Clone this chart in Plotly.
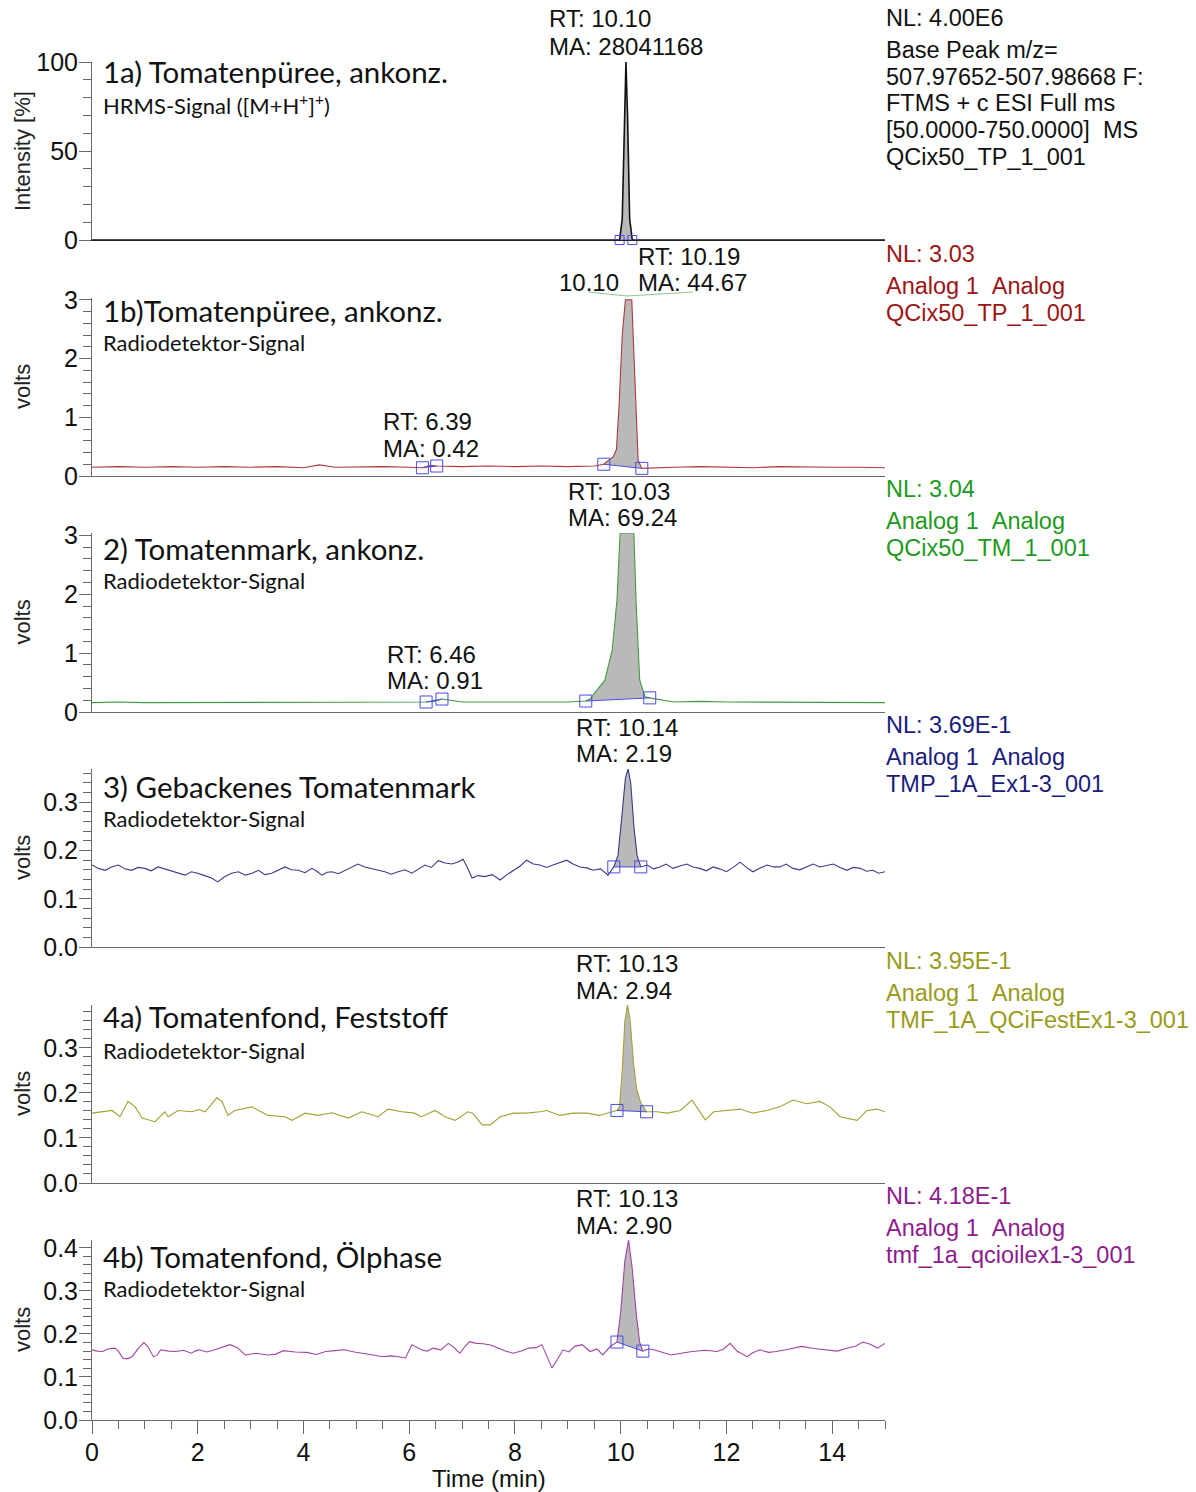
import numpy as np
import plotly.graph_objects as go

# ---------------- data ----------------
# 1a) HRMS signal, intensity [%]
t1a = [0, 5, 9.98, 10.03, 10.07, 10.10, 10.13, 10.17, 10.22, 12, 15]
v1a = [0, 0, 0, 12, 70, 100, 70, 12, 0, 0, 0]

# 1b) Radiodetector, Tomatenpüree (volts)
t1b = [0, 0.5, 1.0, 1.5, 2.0, 2.5, 3.0, 3.5, 4.0, 4.3, 4.6, 5.0, 5.5, 6.0, 6.25, 6.4, 6.52,
       7.0, 7.5, 8.0, 8.5, 9.0, 9.5, 9.68, 9.86, 9.92, 9.97, 10.03, 10.09, 10.21, 10.27, 10.33,
       10.4, 10.6, 11.0, 11.5, 12.0, 12.5, 13.0, 13.5, 14.0, 14.5, 15.0]
v1b = [0.15, 0.16, 0.15, 0.16, 0.15, 0.16, 0.15, 0.16, 0.14, 0.19, 0.15, 0.16, 0.16, 0.15, 0.14, 0.18, 0.17,
       0.16, 0.17, 0.16, 0.17, 0.16, 0.17, 0.20, 0.33, 0.45, 1.20, 2.40, 3.00, 3.00, 1.47, 0.27,
       0.13, 0.14, 0.15, 0.16, 0.15, 0.14, 0.16, 0.15, 0.15, 0.15, 0.14]

# 2) Tomatenmark (volts)
t2 = [0, 0.5, 1.0, 1.5, 2.0, 2.5, 3.0, 3.5, 4.0, 4.5, 5.0, 5.5, 6.0, 6.32, 6.47, 6.62, 7.0, 7.5,
      8.0, 8.5, 9.0, 9.34, 9.42, 9.55, 9.70, 9.84, 9.93, 9.99, 10.25, 10.29, 10.36, 10.46, 10.55,
      11.0, 11.5, 12.0, 12.5, 13.0, 13.5, 14.0, 14.5, 15.0]
v2 = [0.16, 0.17, 0.16, 0.16, 0.17, 0.16, 0.16, 0.17, 0.16, 0.16, 0.17, 0.16, 0.16, 0.17, 0.18, 0.22, 0.17, 0.17,
      0.17, 0.18, 0.17, 0.186, 0.22, 0.37, 0.54, 1.05, 1.90, 3.04, 3.04, 1.90, 0.54, 0.26, 0.24,
      0.17, 0.18, 0.17, 0.17, 0.16, 0.17, 0.17, 0.16, 0.16]

# 3) Gebackenes Tomatenmark (volts)
t3 = [0, 0.12, 0.25, 0.37, 0.5, 0.62, 0.75, 0.87, 1.0, 1.12, 1.25, 1.37, 1.5, 1.62, 1.76, 1.88,
      2.0, 2.13, 2.26, 2.38, 2.5, 2.64, 2.77, 2.9, 3.03, 3.15, 3.27, 3.4, 3.52, 3.65, 3.77, 3.9,
      4.03, 4.16, 4.25, 4.35, 4.45, 4.54, 4.66, 4.79, 4.91, 5.03, 5.16, 5.3, 5.42, 5.54, 5.66,
      5.79, 5.92, 6.05, 6.17, 6.3, 6.42, 6.55, 6.68, 6.81, 6.92, 7.02, 7.1, 7.19, 7.3, 7.43, 7.57,
      7.72, 7.85, 7.97, 8.1, 8.22, 8.35, 8.47, 8.6, 8.72, 8.85, 8.98, 9.1, 9.23, 9.36, 9.48, 9.62,
      9.76, 9.87, 9.95, 10.03, 10.09, 10.14, 10.19, 10.25, 10.31, 10.38, 10.5, 10.62, 10.74,
      10.86, 10.99, 11.12, 11.25, 11.37, 11.5, 11.62, 11.75, 11.87, 12.0, 12.13, 12.26, 12.38,
      12.5, 12.63, 12.77, 12.89, 13.01, 13.13, 13.26, 13.39, 13.52, 13.64, 13.77, 13.9, 14.02,
      14.15, 14.28, 14.4, 14.53, 14.65, 14.77, 14.88, 15.0]
v3 = [0.170, 0.163, 0.159, 0.166, 0.170, 0.162, 0.159, 0.165, 0.163, 0.158, 0.166, 0.162, 0.159,
      0.154, 0.149, 0.156, 0.153, 0.148, 0.143, 0.135, 0.145, 0.153, 0.156, 0.149, 0.153, 0.159,
      0.150, 0.153, 0.160, 0.166, 0.160, 0.159, 0.154, 0.163, 0.157, 0.149, 0.155, 0.156, 0.152,
      0.159, 0.165, 0.172, 0.166, 0.163, 0.159, 0.156, 0.151, 0.156, 0.160, 0.153, 0.162, 0.170,
      0.165, 0.179, 0.174, 0.172, 0.176, 0.182, 0.165, 0.143, 0.148, 0.146, 0.150, 0.139, 0.150,
      0.159, 0.168, 0.180, 0.172, 0.170, 0.165, 0.170, 0.175, 0.180, 0.172, 0.166, 0.164, 0.159,
      0.162, 0.149, 0.166, 0.190, 0.280, 0.350, 0.369, 0.340, 0.250, 0.190, 0.166, 0.170, 0.162,
      0.166, 0.172, 0.163, 0.168, 0.172, 0.166, 0.163, 0.158, 0.166, 0.162, 0.156, 0.165, 0.176,
      0.165, 0.156, 0.163, 0.170, 0.166, 0.166, 0.172, 0.163, 0.160, 0.166, 0.172, 0.166, 0.169,
      0.172, 0.165, 0.159, 0.165, 0.163, 0.157, 0.159, 0.153, 0.156]

# 4a) Tomatenfond, Feststoff (volts)
t4a = [0, 0.25, 0.38, 0.53, 0.68, 0.81, 0.95, 1.19, 1.38, 1.44, 1.63, 1.89, 2.02, 2.14, 2.36, 2.46,
       2.57, 2.7, 3.03, 3.15, 3.33, 3.65, 3.78, 4.03, 4.27, 4.54, 4.85, 5.1, 5.41, 5.6, 5.86, 6.1,
       6.23, 6.49, 6.68, 6.87, 7.11, 7.2, 7.38, 7.53, 7.72, 7.97, 8.22, 8.47, 8.6, 8.85, 9.1, 9.36,
       9.6, 9.84, 9.93, 9.98, 10.03, 10.08, 10.13, 10.18, 10.24, 10.30, 10.38, 10.49, 10.69, 10.88,
       11.13, 11.35, 11.5, 11.6, 11.76, 12.0, 12.26, 12.5, 12.77, 13.01, 13.26, 13.52, 13.77, 13.96,
       14.15, 14.47, 14.66, 14.85, 15.0]
v4a = [0.155, 0.158, 0.161, 0.147, 0.181, 0.170, 0.144, 0.136, 0.158, 0.147, 0.161, 0.158, 0.163,
       0.158, 0.189, 0.181, 0.150, 0.161, 0.169, 0.161, 0.150, 0.147, 0.139, 0.155, 0.150, 0.156,
       0.144, 0.158, 0.147, 0.164, 0.158, 0.155, 0.147, 0.161, 0.147, 0.139, 0.158, 0.155, 0.129,
       0.129, 0.147, 0.155, 0.155, 0.158, 0.161, 0.150, 0.155, 0.155, 0.150, 0.158, 0.161, 0.170,
       0.250, 0.360, 0.395, 0.360, 0.270, 0.210, 0.178, 0.158, 0.158, 0.155, 0.161, 0.184, 0.158,
       0.140, 0.158, 0.161, 0.164, 0.155, 0.161, 0.169, 0.184, 0.176, 0.181, 0.169, 0.147, 0.139,
       0.161, 0.164, 0.158]

# 4b) Tomatenfond, Ölphase (volts)
t4b = [0, 0.1, 0.2, 0.3, 0.43, 0.5, 0.58, 0.66, 0.76, 0.87, 0.98, 1.06, 1.16, 1.23, 1.3, 1.45,
       1.59, 1.73, 1.88, 1.95, 2.03, 2.17, 2.32, 2.46, 2.61, 2.75, 2.9, 3.1, 3.33, 3.48, 3.62, 3.84,
       4.06, 4.24, 4.42, 4.6, 4.78, 4.96, 5.14, 5.32, 5.5, 5.65, 5.8, 5.93, 6.05, 6.14, 6.23, 6.34,
       6.45, 6.6, 6.74, 6.85, 6.96, 7.05, 7.14, 7.27, 7.4, 7.54, 7.68, 7.82, 7.97, 8.12, 8.26, 8.4,
       8.51, 8.6, 8.7, 8.8, 8.91, 9.02, 9.13, 9.27, 9.42, 9.55, 9.66, 9.8, 9.93, 10.0, 10.08, 10.15,
       10.22, 10.3, 10.36, 10.42, 10.52, 10.63, 10.8, 10.95, 11.15, 11.35, 11.6, 11.82, 11.95,
       12.07, 12.2, 12.39, 12.5, 12.63, 12.8, 12.94, 13.2, 13.42, 13.65, 13.9, 14.1, 14.3, 14.45,
       14.58, 14.72, 14.86, 15.0]
v4b = [0.163, 0.160, 0.159, 0.165, 0.167, 0.160, 0.144, 0.142, 0.147, 0.165, 0.180, 0.170, 0.147,
       0.150, 0.163, 0.160, 0.159, 0.162, 0.155, 0.160, 0.163, 0.158, 0.163, 0.168, 0.175, 0.168,
       0.151, 0.155, 0.151, 0.153, 0.161, 0.158, 0.157, 0.152, 0.159, 0.161, 0.163, 0.158, 0.155,
       0.151, 0.147, 0.149, 0.147, 0.144, 0.175, 0.168, 0.163, 0.160, 0.167, 0.163, 0.178, 0.168,
       0.155, 0.170, 0.182, 0.178, 0.177, 0.174, 0.167, 0.160, 0.155, 0.160, 0.167, 0.168, 0.175,
       0.150, 0.121, 0.140, 0.163, 0.158, 0.171, 0.175, 0.159, 0.165, 0.151, 0.170, 0.181, 0.250,
       0.370, 0.418, 0.350, 0.240, 0.180, 0.160, 0.165, 0.163, 0.157, 0.151, 0.155, 0.159, 0.162,
       0.159, 0.165, 0.178, 0.160, 0.147, 0.156, 0.163, 0.157, 0.159, 0.165, 0.171, 0.166, 0.163,
       0.160, 0.167, 0.172, 0.181, 0.176, 0.167, 0.178]

# integrated peak windows (start, end) in minutes
peaks1a = [(9.98, 10.22)]
peaks1b = [(6.25, 6.52), (9.68, 10.40)]
peaks2 = [(6.32, 6.62), (9.34, 10.55)]
peaks3 = [(9.87, 10.38)]
peaks4a = [(9.93, 10.49)]
peaks4b = [(9.93, 10.42)]

# ---------------- geometry helpers ----------------
W, H = 1196, 1492
PL, PR, PT, PB = 92, 885, 62, 1420


def xp(px):
    return (px - PL) / (PR - PL)


def yp(py):
    return (PB - py) / (PB - PT)


TXT = "Liberation Sans, Arial, sans-serif"
TTL = "Lato, Open Sans, sans-serif"
AXC = "#6a6a6a"
BLUE = "#4b4be6"
FILL = "#b9b9b9"

panels = [
    dict(t=t1a, v=v1a, peaks=peaks1a, color="#111111", top=62, bot=240, ymax=100,
         dtick=50, minor=10, fmt="d", box=9,
         title="1a) Tomatenpüree, ankonz.", sub="HRMS-Signal ([M+H<sup>+</sup>]<sup>+</sup>)",
         ytitle="Intensity [%]", tcol="#111111",
         right=["NL: 4.00E6", "Base Peak m/z=", "507.97652-507.98668 F:", "FTMS + c ESI Full ms",
                "[50.0000-750.0000]\u00a0\u00a0MS", "QCix50_TP_1_001"],
         labels=[(549, 19, "RT: 10.10"), (549, 46, "MA: 28041168")], ttl_dy=(10, 42)),
    dict(t=t1b, v=v1b, peaks=peaks1b, color="#b03a3a", top=298, bot=476, ymax=3.03,
         dtick=1, minor=0.2, fmt="d", box=12,
         title="1b)Tomatenpüree, ankonz.", sub="Radiodetektor-Signal",
         ytitle="volts", tcol="#9b1616",
         right=["NL: 3.03", "Analog 1\u00a0\u00a0Analog", "QCix50_TP_1_001"],
         labels=[(638, 256, "RT: 10.19"), (638, 282, "MA: 44.67"), (559, 282, "10.10"),
                 (383, 422, "RT: 6.39"), (383, 448, "MA: 0.42")], ttl_dy=(12, 44)),
    dict(t=t2, v=v2, peaks=peaks2, color="#3d9e3d", top=533, bot=712, ymax=3.04,
         dtick=1, minor=0.2, fmt="d", box=12,
         title="2) Tomatenmark, ankonz.", sub="Radiodetektor-Signal",
         ytitle="volts", tcol="#1d9a1d",
         right=["NL: 3.04", "Analog 1\u00a0\u00a0Analog", "QCix50_TM_1_001"],
         labels=[(568, 491, "RT: 10.03"), (568, 517, "MA: 69.24"),
                 (387, 654, "RT: 6.46"), (387, 680, "MA: 0.91")], ttl_dy=(15, 47)),
    dict(t=t3, v=v3, peaks=peaks3, color="#3a3a8c", top=769, bot=947, ymax=0.369,
         dtick=0.1, minor=0.02, fmt=".1f", box=12,
         title="3) Gebackenes Tomatenmark", sub="Radiodetektor-Signal",
         ytitle="volts", tcol="#1c1c7c",
         right=["NL: 3.69E-1", "Analog 1\u00a0\u00a0Analog", "TMP_1A_Ex1-3_001"],
         labels=[(576, 727, "RT: 10.14"), (576, 753, "MA: 2.19")], ttl_dy=(17, 49)),
    dict(t=t4a, v=v4a, peaks=peaks4a, color="#a2a232", top=1005, bot=1183, ymax=0.395,
         dtick=0.1, minor=0.02, fmt=".1f", box=12,
         title="4a) Tomatenfond, Feststoff", sub="Radiodetektor-Signal",
         ytitle="volts", tcol="#9a9a1a",
         right=["NL: 3.95E-1", "Analog 1\u00a0\u00a0Analog", "TMF_1A_QCiFestEx1-3_001"],
         labels=[(576, 963, "RT: 10.13"), (576, 990, "MA: 2.94")], ttl_dy=(12, 45)),
    dict(t=t4b, v=v4b, peaks=peaks4b, color="#a443a4", top=1240, bot=1420, ymax=0.418,
         dtick=0.1, minor=0.02, fmt=".1f", box=12,
         title="4b) Tomatenfond, Ölphase", sub="Radiodetektor-Signal",
         ytitle="volts", tcol="#8c1c8c",
         right=["NL: 4.18E-1", "Analog 1\u00a0\u00a0Analog", "tmf_1a_qcioilex1-3_001"],
         labels=[(576, 1198, "RT: 10.13"), (576, 1225, "MA: 2.90")], ttl_dy=(16, 48)),
]

fig = go.Figure()
annotations = []
layout = {}

for i, p in enumerate(panels):
    n = i + 1
    xa = "x" if n == 1 else f"x{n}"
    ya = "y" if n == 1 else f"y{n}"
    t = np.array(p["t"], dtype=float)
    v = np.array(p["v"], dtype=float)

    # integrated peak areas (grey) and their baselines with boxes
    for (s, e) in p["peaks"]:
        inside = (t > s) & (t < e)
        xs = np.concatenate([[s], t[inside], [e]])
        ys = np.concatenate([[np.interp(s, t, v)], v[inside], [np.interp(e, t, v)]])
        fig.add_trace(go.Scatter(x=xs, y=ys, xaxis=xa, yaxis=ya, mode="lines", fill="toself",
                                 fillcolor=FILL, line=dict(width=0), hoverinfo="skip",
                                 showlegend=False))
    fig.add_trace(go.Scatter(x=t, y=v, xaxis=xa, yaxis=ya, mode="lines",
                             line=dict(color=p["color"], width=1.1 if n > 1 else 1.6),
                             showlegend=False, cliponaxis=True))
    for (s, e) in p["peaks"]:
        bx = [s, e]
        by = [float(np.interp(s, t, v)), float(np.interp(e, t, v))]
        fig.add_trace(go.Scatter(x=bx, y=by, xaxis=xa, yaxis=ya, mode="lines+markers",
                                 line=dict(color=BLUE, width=1),
                                 marker=dict(symbol="square-open", size=p["box"], color=BLUE,
                                             line=dict(width=1, color=BLUE)),
                                 showlegend=False, cliponaxis=False))

    dom = [yp(p["bot"]), yp(p["top"])]
    last = (n == len(panels))
    xcfg = dict(
        domain=[0, 1], anchor=ya, range=[0, 15], showgrid=False, zeroline=False,
        showline=True, linecolor=AXC if n > 1 else "#222222", linewidth=1,
        showticklabels=last,
    )
    if last:
        xcfg.update(ticks="outside", ticklen=13, tickcolor=AXC, tick0=0, dtick=2,
                    ticklabelstandoff=-3,
                    tickfont=dict(family=TXT, size=25, color="#111111"),
                    minor=dict(dtick=0.5, ticklen=8, ticks="outside", tickcolor=AXC))
    else:
        xcfg.update(ticks="")
    layout[("xaxis" if n == 1 else f"xaxis{n}")] = xcfg
    layout[("yaxis" if n == 1 else f"yaxis{n}")] = dict(
        domain=dom, anchor=xa, range=[0, p["ymax"]], showgrid=False, zeroline=False,
        showline=True, linecolor=AXC, linewidth=1, ticks="outside", ticklen=12,
        tickcolor=AXC, tick0=0, dtick=p["dtick"], tickformat=p["fmt"],
        ticklabelstandoff=-4,
        tickfont=dict(family=TXT, size=25, color="#111111"),
        minor=dict(dtick=p["minor"], ticklen=8, ticks="outside", tickcolor=AXC),
    )

    # panel title and subtitle
    annotations.append(dict(text=p["title"], xref="paper", yref="paper", x=xp(101),
                            y=yp(p["top"] + p["ttl_dy"][0]), xanchor="left", yanchor="middle",
                            showarrow=False, font=dict(family=TTL, size=29.5, color="#111111")))
    annotations.append(dict(text=p["sub"], xref="paper", yref="paper", x=xp(101),
                            y=yp(p["top"] + p["ttl_dy"][1]), xanchor="left", yanchor="middle",
                            showarrow=False, font=dict(family=TTL, size=22, color="#111111")))
    # y axis title
    annotations.append(dict(text=p["ytitle"], xref="paper", yref="paper", x=xp(22),
                            y=yp((p["top"] + p["bot"]) / 2), xanchor="center", yanchor="middle",
                            textangle=-90, showarrow=False,
                            font=dict(family=TXT, size=22, color="#222222")))
    # right-hand info text
    for k, line in enumerate(p["right"]):
        py = p["top"] - 44 + (0 if k == 0 else 32 + 26.7 * (k - 1))
        annotations.append(dict(text=line, xref="paper", yref="paper", x=xp(884),
                                y=yp(py), xanchor="left", yanchor="middle", showarrow=False,
                                font=dict(family=TXT, size=23.5, color=p["tcol"])))
    # peak labels
    for (lx, ly, txt) in p["labels"]:
        annotations.append(dict(text=txt, xref="paper", yref="paper", x=xp(lx - 2), y=yp(ly),
                                xanchor="left", yanchor="middle", showarrow=False,
                                font=dict(family=TXT, size=24, color="#111111")))

# x axis title
annotations.append(dict(text="Time (min)", xref="paper", yref="paper", x=xp(489), y=yp(1478),
                        xanchor="center", yanchor="middle", showarrow=False,
                        font=dict(family=TXT, size=24, color="#111111")))

shapes = [dict(type="path", xref="paper", yref="paper",
               path=f"M {xp(588)},{yp(292)} L {xp(627)},{yp(296)} L {xp(693)},{yp(292)}",
               line=dict(color="#8cc88c", width=1))]

fig.update_layout(width=W, height=H, margin=dict(l=PL, r=W - PR, t=PT, b=H - PB),
                  paper_bgcolor="white", plot_bgcolor="white", annotations=annotations,
                  shapes=shapes, **layout)

fig.write_html("out.html", config={"displayModeBar": False},
               post_script="document.body.style.margin='0px';document.body.style.padding='0px';")
